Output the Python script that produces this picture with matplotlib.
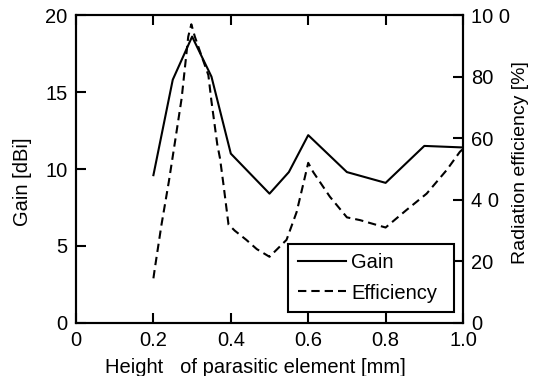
import numpy as np
import matplotlib
matplotlib.use("Agg")
import matplotlib.pyplot as plt

plt.rcParams['font.family'] = ['Liberation Sans', 'DejaVu Sans']
plt.rcParams['font.size'] = 14.5

# gain curve [dBi]
height_gain = [0.2, 0.25, 0.3, 0.35, 0.4, 0.5, 0.55, 0.6, 0.7, 0.8, 0.9, 1.0]
gain = [9.6, 15.8, 18.6, 16.0, 11.0, 8.4, 9.8, 12.2, 9.8, 9.1, 11.5, 11.4]

# radiation efficiency [%]
height_eff = [0.20, 0.204, 0.221, 0.24, 0.256, 0.273, 0.29, 0.298, 0.307, 0.325,
              0.342, 0.35, 0.365, 0.372, 0.381, 0.394, 0.41, 0.44, 0.467, 0.50,
              0.544, 0.57, 0.587, 0.60, 0.613, 0.656, 0.70, 0.734, 0.80, 0.854,
              0.906, 0.958, 0.992, 1.0]
eff = [14.5, 18, 32, 46, 59, 73, 93, 97, 93, 86.5,
       80.5, 72, 58, 53.5, 45, 32, 30, 27, 24, 21.5,
       27, 36, 45, 52, 49, 41, 34.3, 33.4, 31, 36.7,
       42, 49.7, 55.6, 56.5]

x_ticks = [0, 0.2, 0.4, 0.6, 0.8, 1.0]
x_labels = ['0', '0.2', '0.4', '0.6', '0.8', '1.0']
gain_ticks = [0, 5, 10, 15, 20]
eff_ticks = [0, 20, 40, 60, 80, 100]
eff_labels = ['0', '20', '4 0', '60', '80', '10 0']

fig = plt.figure(figsize=(5.33, 3.76), dpi=100)
ax = fig.add_axes([0.1426, 0.141, 0.7261, 0.819])
ax2 = ax.twinx()

g_line, = ax.plot(height_gain, gain, color='black', lw=1.5, label='Gain')
e_line, = ax2.plot(height_eff, eff, color='black', lw=1.5, linestyle=(0, (4, 2.4)),
                   label='Efficiency')

ax.set_xlim(0, 1.0)
ax.set_ylim(0, 20)
ax2.set_ylim(0, 100)

ax.set_xticks(x_ticks)
ax.set_xticklabels(x_labels)
ax.set_yticks(gain_ticks)
ax2.set_yticks(eff_ticks)
ax2.set_yticklabels(eff_labels)

for a in (ax, ax2):
    for s in a.spines.values():
        s.set_linewidth(1.5)
ax.tick_params(axis='x', direction='in', length=7.5, width=1.5, pad=6, top=True)
ax.tick_params(axis='y', direction='in', length=7.5, width=1.5, pad=6)
ax2.tick_params(axis='y', direction='in', length=7.5, width=1.5, pad=6)

ax.set_xlabel('Height   of parasitic element [mm]', va='center')
ax.xaxis.set_label_coords(0.464, -0.146)
ax.set_ylabel('Gain [dBi]', va='center')
ax.yaxis.set_label_coords(-0.138, 0.46)
ax2.set_ylabel('Radiation efficiency [%]', va='center', fontsize=14)
ax2.yaxis.set_label_coords(1.148, 0.52)

leg = ax2.legend(handles=[g_line, e_line], loc='lower left', mode='expand',
                 bbox_to_anchor=(0.549, 0.037, 0.4285, 0.23), fancybox=False,
                 edgecolor='black', framealpha=1, handlelength=2.4,
                 handletextpad=0.25, borderpad=0.45, labelspacing=0.55,
                 borderaxespad=0)
leg.get_frame().set_linewidth(1.5)

fig.savefig('out.png', dpi=100)
